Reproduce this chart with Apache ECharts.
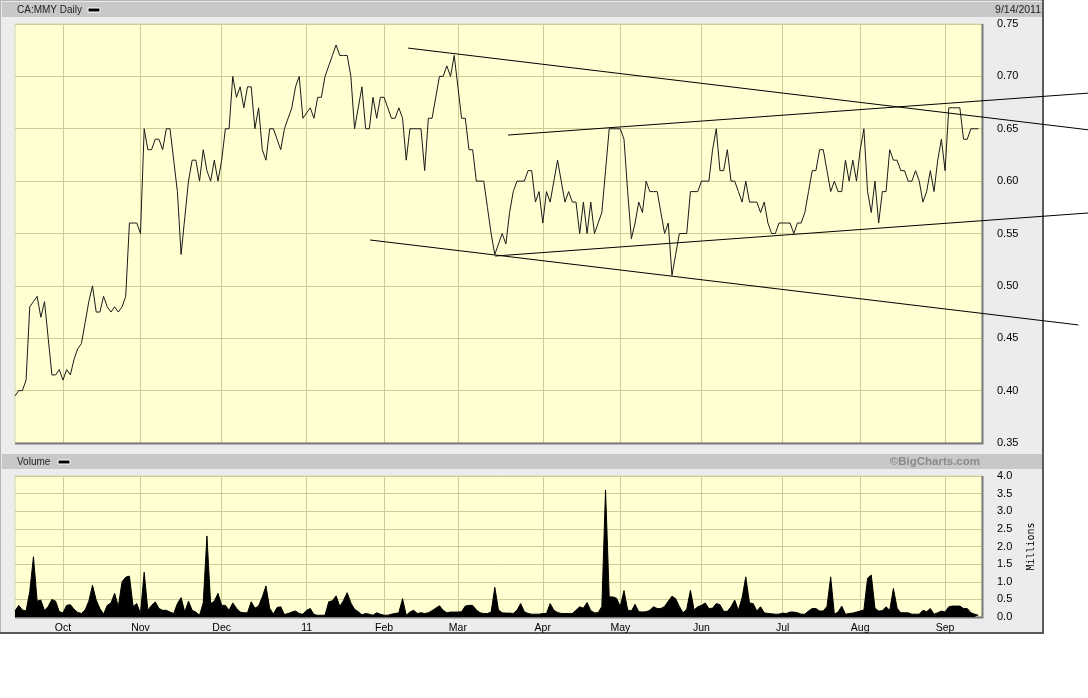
<!DOCTYPE html>
<html>
<head>
<meta charset="utf-8">
<script src="https://cdn.jsdelivr.net/npm/echarts@6/dist/echarts.min.js"></script>
<style>
  html, body { margin: 0; padding: 0; background: #ffffff; }
  #chart { width: 1088px; height: 698px; }
</style>
</head>
<body>
<div id="chart"></div>
<script>
// ---- Data ----
const firstDate = '2010-09-14';   // first trading weekday shown
const lastDate  = '2011-09-15';   // one blank slot after the last quote (9/14/2011)

const monthKeys   = ['2010-10','2010-11','2010-12','2011-01','2011-02','2011-03','2011-04','2011-05','2011-06','2011-07','2011-08','2011-09'];
const monthLabels = ['Oct','Nov','Dec','11','Feb','Mar','Apr','May','Jun','Jul','Aug','Sep'];

const priceTicks  = [0.35, 0.75, 0.05];   // min, max, step
const volumeTicks = [0, 4, 0.5];

// daily close (CAD)
const closes = [
  0.395,0.40,0.40,0.41,0.48,0.485,0.49,0.47,0.485,0.45,
  0.415,0.415,0.42,0.41,0.42,0.415,0.43,0.44,0.445,0.465,
  0.485,0.50,0.475,0.475,0.49,0.48,0.475,0.48,0.475,0.48,
  0.49,0.56,0.56,0.56,0.55,0.65,0.63,0.63,0.64,0.64,
  0.63,0.65,0.65,0.62,0.59,0.53,0.565,0.60,0.62,0.62,
  0.60,0.63,0.61,0.60,0.62,0.60,0.62,0.65,0.65,0.70,
  0.68,0.69,0.67,0.69,0.69,0.65,0.67,0.63,0.62,0.65,
  0.65,0.64,0.63,0.65,0.66,0.67,0.69,0.70,0.66,0.665,
  0.67,0.66,0.68,0.68,0.70,0.71,0.72,0.73,0.72,0.72,
  0.72,0.70,0.65,0.67,0.69,0.65,0.65,0.68,0.66,0.68,
  0.68,0.67,0.66,0.66,0.67,0.66,0.62,0.65,0.65,0.65,
  0.65,0.61,0.66,0.66,0.68,0.70,0.70,0.71,0.70,0.72,
  0.69,0.66,0.66,0.63,0.63,0.60,0.60,0.60,0.575,0.55,
  0.53,0.54,0.55,0.54,0.57,0.59,0.60,0.60,0.60,0.61,
  0.61,0.58,0.59,0.56,0.59,0.58,0.60,0.62,0.60,0.58,
  0.59,0.58,0.58,0.55,0.58,0.55,0.58,0.55,0.56,0.57,
  0.61,0.65,0.65,0.65,0.65,0.64,0.59,0.545,0.56,0.58,
  0.57,0.60,0.59,0.59,0.59,0.57,0.55,0.56,0.51,0.53,
  0.55,0.55,0.55,0.59,0.59,0.59,0.60,0.60,0.60,0.63,
  0.65,0.61,0.61,0.63,0.60,0.60,0.59,0.58,0.60,0.58,
  0.58,0.58,0.57,0.58,0.56,0.55,0.55,0.56,0.56,0.56,
  0.56,0.55,0.56,0.56,0.57,0.59,0.61,0.61,0.63,0.63,
  0.61,0.59,0.60,0.59,0.59,0.62,0.60,0.62,0.60,0.63,
  0.65,0.59,0.57,0.60,0.56,0.59,0.59,0.63,0.62,0.62,
  0.61,0.61,0.60,0.60,0.61,0.60,0.58,0.59,0.61,0.59,
  0.62,0.64,0.61,0.67,0.67,0.67,0.67,0.64,0.64,0.65,
  0.65,0.65
];

// daily volume (millions of shares)
const volumes = [
  0.17,0.33,0.20,0.17,0.72,1.71,0.45,0.48,0.18,0.30,
  0.50,0.45,0.15,0.12,0.33,0.35,0.22,0.13,0.10,0.20,
  0.45,0.90,0.48,0.24,0.08,0.33,0.40,0.67,0.30,1.00,
  1.13,1.16,0.30,0.38,0.10,1.27,0.19,0.33,0.43,0.24,
  0.19,0.19,0.14,0.10,0.38,0.55,0.14,0.45,0.19,0.14,
  0.05,0.40,2.30,0.38,0.45,0.67,0.33,0.33,0.19,0.40,
  0.25,0.14,0.12,0.12,0.43,0.25,0.31,0.57,0.88,0.25,
  0.08,0.27,0.29,0.07,0.10,0.14,0.17,0.10,0.08,0.19,
  0.24,0.07,0.05,0.05,0.05,0.43,0.46,0.60,0.30,0.47,
  0.69,0.40,0.22,0.15,0.06,0.10,0.08,0.05,0.12,0.08,
  0.05,0.05,0.08,0.10,0.12,0.52,0.05,0.14,0.19,0.10,
  0.12,0.10,0.12,0.18,0.25,0.32,0.19,0.12,0.14,0.14,
  0.14,0.15,0.31,0.33,0.33,0.20,0.12,0.10,0.10,0.14,
  0.84,0.20,0.12,0.11,0.11,0.10,0.19,0.38,0.15,0.10,
  0.08,0.08,0.08,0.10,0.10,0.38,0.19,0.13,0.10,0.10,
  0.10,0.10,0.19,0.29,0.25,0.41,0.18,0.12,0.12,0.30,
  3.60,0.57,0.57,0.53,0.30,0.75,0.20,0.17,0.36,0.15,
  0.14,0.15,0.19,0.29,0.24,0.24,0.30,0.45,0.59,0.52,
  0.30,0.12,0.22,0.76,0.20,0.29,0.33,0.40,0.24,0.25,
  0.38,0.35,0.16,0.16,0.29,0.48,0.19,0.55,1.14,0.40,
  0.38,0.17,0.29,0.12,0.10,0.09,0.08,0.08,0.11,0.10,
  0.14,0.14,0.12,0.08,0.08,0.17,0.24,0.24,0.17,0.17,
  0.30,1.14,0.08,0.14,0.31,0.08,0.10,0.11,0.14,0.17,
  0.20,1.10,1.19,0.25,0.17,0.18,0.29,0.19,0.81,0.25,
  0.12,0.12,0.12,0.08,0.08,0.08,0.19,0.15,0.24,0.08,
  0.12,0.17,0.14,0.29,0.31,0.31,0.31,0.24,0.24,0.12,
  0.08,0.05
];

// hand-drawn trend lines: [dayIndex, price] end points
const trendUpperFalling = [[106.5, 0.727], [290.8, 0.649]];
const trendUpperRising  = [[133.6, 0.644], [290.8, 0.684]];
const trendLowerRising  = [[130.1, 0.5285], [290.8, 0.5696]];
const trendLowerFalling = [[96.2, 0.5438], [288.1, 0.4627]];
const trendLines = [trendUpperFalling, trendUpperRising, trendLowerRising, trendLowerFalling];

// ---- build trading-day categories (weekdays) ----
const days = [];
(function () {
  const d = new Date(firstDate + 'T00:00:00Z');
  const end = new Date(lastDate + 'T00:00:00Z');
  while (d <= end) {
    const wd = d.getUTCDay();
    if (wd !== 0 && wd !== 6) days.push(d.toISOString().slice(0, 10));
    d.setUTCDate(d.getUTCDate() + 1);
  }
})();
function isMonthStart(i) {
  return i > 0 && days[i].slice(0, 7) !== days[i - 1].slice(0, 7);
}
function monthLabel(v) {
  const k = monthKeys.indexOf(String(v).slice(0, 7));
  return k >= 0 ? monthLabels[k] : '';
}

const FONT = 'Liberation Sans, Arial, sans-serif';
const GRIDC = '#cccc99';
const PLOTBG = '#ffffd2';

const chart = echarts.init(document.getElementById('chart'), null, { renderer: 'canvas' });

const staticGraphic = [
  // outer panel
  { type: 'rect', z: -100, silent: true, shape: { x: 0, y: 0, width: 1043, height: 633 }, style: { fill: '#ececec' } },
  { type: 'polyline', z: -99, silent: true, shape: { points: [[0.5, 633], [0.5, 0.5], [1043, 0.5]] }, style: { stroke: '#b4b4b4', lineWidth: 1, fill: null } },
  { type: 'polyline', z: -99, silent: true, shape: { points: [[1043, 0], [1043, 633], [0, 633]] }, style: { stroke: '#5a5a5a', lineWidth: 2, fill: null } },
  // header bars
  { type: 'rect', z: -98, silent: true, shape: { x: 2, y: 2, width: 1040, height: 15 }, style: { fill: '#c8c8c8' } },
  { type: 'rect', z: -98, silent: true, shape: { x: 2, y: 454, width: 1040, height: 15 }, style: { fill: '#c8c8c8' } },
  // plot shadows
  { type: 'polyline', z: 1, silent: true, shape: { points: [[982.5, 24], [982.5, 443.5], [15, 443.5]] }, style: { stroke: '#7a7a7a', lineWidth: 2, fill: null } },
  { type: 'polyline', z: 1, silent: true, shape: { points: [[982.5, 476], [982.5, 617.5], [15, 617.5]] }, style: { stroke: '#7a7a7a', lineWidth: 2, fill: null } },
  // header texts
  { type: 'text', z: 10, silent: true, style: { x: 17, y: 10, text: 'CA:MMY Daily', font: '10px ' + FONT, fill: '#222', verticalAlign: 'middle', textVerticalAlign: 'middle' } },
  { type: 'rect', z: 10, silent: true, shape: { x: 88, y: 8, width: 12, height: 4 }, style: { fill: '#000', stroke: '#ffffff', lineWidth: 1 } },
  { type: 'text', z: 10, silent: true, style: { x: 1041, y: 10, text: '9/14/2011', font: '10.5px ' + FONT, fill: '#222', align: 'right', textAlign: 'right', verticalAlign: 'middle', textVerticalAlign: 'middle' } },
  { type: 'text', z: 10, silent: true, style: { x: 17, y: 462, text: 'Volume', font: '10px ' + FONT, fill: '#222', verticalAlign: 'middle', textVerticalAlign: 'middle' } },
  { type: 'rect', z: 10, silent: true, shape: { x: 58, y: 460, width: 12, height: 4 }, style: { fill: '#000', stroke: '#ffffff', lineWidth: 1 } },
  { type: 'text', z: 10, silent: true, style: { x: 980, y: 462, text: '\u00A9BigCharts.com', font: 'bold 11.5px ' + FONT, fill: '#8a8a8a', align: 'right', textAlign: 'right', verticalAlign: 'middle', textVerticalAlign: 'middle' } }
];

const option = {
  backgroundColor: '#ffffff',
  animation: false,
  grid: [
    { left: 15, top: 24, width: 967, height: 419, show: true, backgroundColor: PLOTBG,
      borderColor: '#d6d6b0', borderWidth: 1, outerBoundsMode: 'none', containLabel: false },
    { left: 15, top: 476, width: 967, height: 141, show: true, backgroundColor: PLOTBG,
      borderColor: '#d6d6b0', borderWidth: 1, outerBoundsMode: 'none', containLabel: false }
  ],
  xAxis: [
    { type: 'category', gridIndex: 0, data: days, boundaryGap: false,
      axisLine: { show: false }, axisTick: { show: false }, axisLabel: { show: false },
      splitLine: { show: true, interval: (i) => isMonthStart(i), lineStyle: { color: GRIDC, width: 1 } } },
    { type: 'category', gridIndex: 1, data: days, boundaryGap: false,
      axisLine: { show: false }, axisTick: { show: false },
      axisLabel: { show: true, interval: (i) => isMonthStart(i), formatter: monthLabel,
        color: '#000', fontFamily: FONT, fontSize: 10.5, margin: 6 },
      splitLine: { show: true, interval: (i) => isMonthStart(i), lineStyle: { color: GRIDC, width: 1 } } },
    { type: 'value', gridIndex: 0, min: 0, max: days.length - 1, show: false }
  ],
  yAxis: [
    { type: 'value', gridIndex: 0, position: 'right', min: priceTicks[0], max: priceTicks[1], interval: priceTicks[2],
      axisLine: { show: false }, axisTick: { show: false },
      axisLabel: { color: '#000', fontFamily: FONT, fontSize: 11, margin: 15, formatter: (v) => v.toFixed(2) },
      splitLine: { show: true, lineStyle: { color: GRIDC, width: 1 } } },
    { type: 'value', gridIndex: 1, position: 'right', min: volumeTicks[0], max: volumeTicks[1], interval: volumeTicks[2],
      axisLine: { show: false }, axisTick: { show: false },
      axisLabel: { color: '#000', fontFamily: FONT, fontSize: 11, margin: 15, formatter: (v) => v.toFixed(1) },
      splitLine: { show: true, lineStyle: { color: GRIDC, width: 1 } },
      name: 'Millions', nameLocation: 'middle', nameRotate: 90, nameGap: 44,
      nameTextStyle: { fontFamily: 'DejaVu Sans Mono, monospace', fontSize: 10, color: '#000' } }
  ],
  series: [
    { name: 'Close', type: 'line', xAxisIndex: 0, yAxisIndex: 0, data: closes,
      symbol: 'none', lineStyle: { color: '#1a1a1a', width: 1 }, z: 3, silent: true },
    { name: 'Volume', type: 'line', xAxisIndex: 1, yAxisIndex: 1, data: volumes,
      symbol: 'none', lineStyle: { color: '#000', width: 1 }, areaStyle: { color: '#000', opacity: 1 }, z: 3, silent: true }
  ],
  graphic: staticGraphic
};

chart.setOption(option);

// trend lines: end points mapped through the chart's own axes (they run past the plot, as in the original)
const trendGraphic = trendLines.map(function (seg, k) {
  const p0 = chart.convertToPixel({ xAxisIndex: 2, yAxisIndex: 0 }, seg[0]);
  const p1 = chart.convertToPixel({ xAxisIndex: 2, yAxisIndex: 0 }, seg[1]);
  return { type: 'line', id: 'trend' + k, z: 50, silent: true,
    shape: { x1: p0[0], y1: p0[1], x2: p1[0], y2: p1[1] },
    style: { stroke: '#000', lineWidth: 1 } };
});
chart.setOption({ graphic: staticGraphic.concat(trendGraphic) });
</script>
</body>
</html>
